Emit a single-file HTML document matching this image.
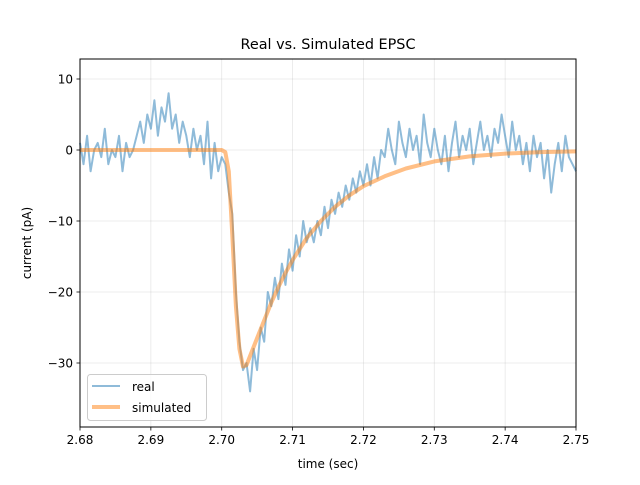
<!DOCTYPE html>
<html><head><meta charset="utf-8"><style>
body{margin:0;background:#fff}
svg text{font-family:"DejaVu Sans","Liberation Sans",sans-serif;fill:#000}
</style></head><body>
<svg id="chart" width="640" height="480" xmlns="http://www.w3.org/2000/svg">
<rect width="640" height="480" fill="#fff"/>
<g id="grid"></g>
<g id="series"></g>
<rect x="80" y="59" width="496" height="368" fill="none" stroke="#000" stroke-width="1"/>
<g id="ticks"></g>
<text x="328" y="49" text-anchor="middle" font-size="14.4">Real vs. Simulated EPSC</text>
<text x="328" y="468" text-anchor="middle" font-size="12">time (sec)</text>
<text x="31" y="243" text-anchor="middle" font-size="12" transform="rotate(-90 31 243)">current (pA)</text>
<g>
<rect x="87.5" y="374.5" width="119" height="46" rx="3" fill="#fff" fill-opacity="0.8" stroke="#ccc"/>
<line x1="92" y1="386" x2="120" y2="386" stroke="#1f77b4" stroke-opacity="0.5" stroke-width="2"/>
<text x="132" y="391" font-size="12">real</text>
<line x1="92" y1="407" x2="120" y2="407" stroke="#ff7f0e" stroke-opacity="0.5" stroke-width="4"/>
<text x="132" y="412" font-size="12">simulated</text>
</g>
</svg>
<script>
const realStart = 2.68;
const realStep = 0.0005;
const realValues = [1,-2,2,-3,0,1,-1,3,-2,0,-1,2,-3,1,-1,0,2,4,1,5,3,7,2,6,4,8,3,5,1,4,2,-1,3,0,2,-2,4,-4,1,-3,-1,
-2,-6,-9,-20,-27,-31,-30,-34,-28,-31,-25,-27,-20,-22,-18,-21,-16,-19,-14,-17,-12,-15,-10,-13,-11,-13,-10,-12,-8,-11,-7,-9,-6,-8,-5,-7,-4,-6,-3,-5,-2,-5,-1,-4,0,-1,3,0,-2,4,1,-1,3,0,2,-2,5,1,-1,3,0,-2,2,-3,1,4,-1,2,0,3,-2,1,4,0,2,-1,3,1,5,2,-1,4,0,2,-2,1,-3,2,-1,1,-4,0,-6,-2,1,-3,2,-1,-2,-3];
const simTimes = [2.68,2.70,2.7005,2.701,2.7015,2.702,2.7025,2.703,2.7035,2.704,2.705,2.706,2.707,2.708,2.709,2.71,2.712,2.714,2.716,2.718,2.72,2.723,2.726,2.73,2.735,2.74,2.745,2.75];
const simValues = [0,0,-0.3,-3,-12,-22,-28,-30.5,-30.3,-29,-26.5,-24,-21.5,-19.3,-17.3,-15.5,-12.4,-10,-8,-6.4,-5.1,-3.7,-2.6,-1.6,-0.9,-0.5,-0.3,-0.2];
const xTicks = [2.68,2.69,2.70,2.71,2.72,2.73,2.74,2.75];
const yTicks = [10,0,-10,-20,-30];

const NS="http://www.w3.org/2000/svg";
const X0=80,X1=576,xmin=2.68,xmax=2.75;
const sx=v=>X0+(v-xmin)/(xmax-xmin)*(X1-X0);
const sy=v=>150-v*7.1;
function mk(tag,attrs,parent){const e=document.createElementNS(NS,tag);for(const k in attrs)e.setAttribute(k,attrs[k]);parent.appendChild(e);return e;}
const grid=document.getElementById('grid'),ticks=document.getElementById('ticks'),series=document.getElementById('series');
xTicks.forEach(t=>{const x=sx(t);
 const g=mk('line',{x1:x,x2:x,y1:59,y2:427,stroke:'#b0b0b0','stroke-opacity':0.3,'stroke-width':0.8},grid);
 
 
 const l=mk('line',{x1:x,x2:x,y1:427,y2:430.5,stroke:'#000','stroke-width':0.8},ticks);
 
 
 const tx=mk('text',{x:x,y:444,'text-anchor':'middle','font-size':12},ticks);tx.textContent=t.toFixed(2);
 
 
});
yTicks.forEach(t=>{const y=sy(t);
 const g=mk('line',{x1:80,x2:576,y1:y,y2:y,stroke:'#b0b0b0','stroke-opacity':0.3,'stroke-width':0.8},grid);
 
 
 const l=mk('line',{x1:76.5,x2:80,y1:y,y2:y,stroke:'#000','stroke-width':0.8},ticks);
 
 
 const tx=mk('text',{x:73,y:y+4.5,'text-anchor':'end','font-size':12},ticks);tx.textContent=(t<0?'\u2212'+(-t):t);
 
 
});
const rp=realValues.map((v,i)=>sx(realStart+i*realStep).toFixed(1)+','+sy(v).toFixed(1)).join(' ');
const real=mk('polyline',{points:rp,fill:'none',stroke:'#1f77b4','stroke-opacity':0.5,'stroke-width':2,'stroke-linejoin':'round'},series);


const spts=simTimes.map((t,i)=>sx(t).toFixed(1)+','+sy(simValues[i]).toFixed(1)).join(' ');
const sim=mk('polyline',{points:spts,fill:'none',stroke:'#ff7f0e','stroke-opacity':0.5,'stroke-width':4,'stroke-linejoin':'round'},series);


</script>
</body></html>
